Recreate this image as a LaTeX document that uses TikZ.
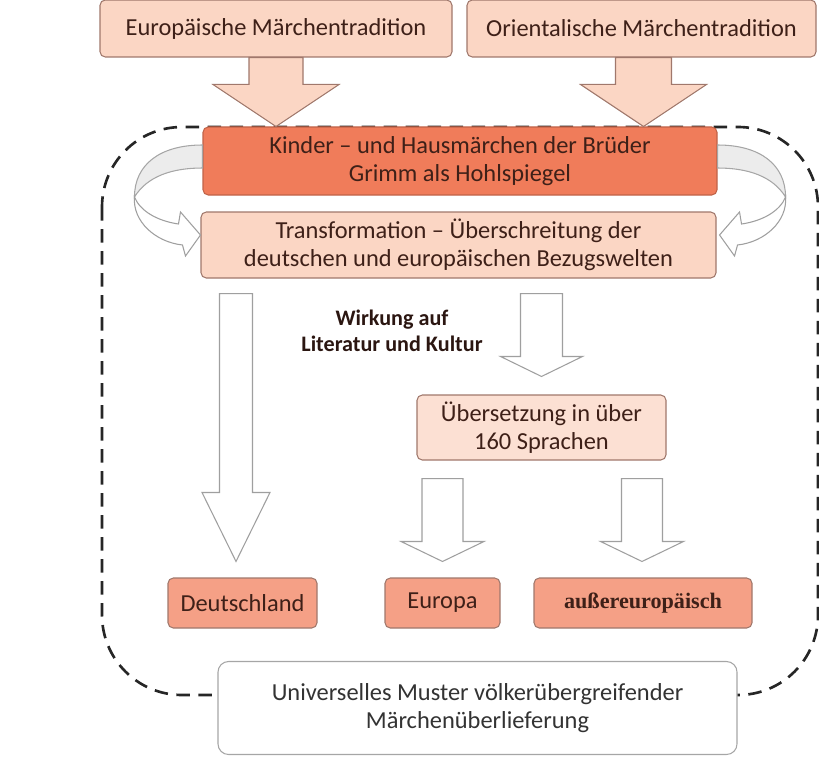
\documentclass[tikz,border=0pt]{standalone}
\usepackage{fontspec}
\setmainfont{Carlito}
\newfontfamily\oldserif{Liberation Serif}
\usetikzlibrary{calc}

\definecolor{peach}{RGB}{251,214,196}
\definecolor{coral}{RGB}{240,124,90}
\definecolor{salmon}{RGB}{245,160,134}
\definecolor{edge}{RGB}{160,120,108}
\definecolor{ink}{RGB}{62,32,24}

% fat block arrow: top point, tip point, half shaft, half head, head length
\newcommand{\fatdown}[6][]{%
  \draw[#1] let \p1=#2, \p2=#3 in
    (\x2-#4,\y1) -- (\x2+#4,\y1) -- (\x2+#4,\y2+#6) -- (\x2+#5,\y2+#6)
    -- (\x2,\y2) -- (\x2-#5,\y2+#6) -- (\x2-#4,\y2+#6) -- cycle;}

\begin{document}
\begin{tikzpicture}[line width=0.6pt,
  box/.style={draw=edge,rounded corners=3pt,align=center,inner sep=0pt,text=ink,font=\fontsize{13.9}{16}\selectfont},
  peachbox/.style={box,fill=peach},
  redbox/.style={box,fill=coral,draw=coral!80!black},
  landbox/.style={box,fill=salmon,minimum height=1cm},
  toparr/.style={fill=peach,draw=edge},
  whitearr/.style={fill=white,draw=gray!75},
  frame/.style={dashed,line width=1.5pt,dash pattern=on 0.27cm off 0.17cm,rounded corners=1.6cm,black!85},
  band/.style={fill=gray!15,draw=gray!70},
  curl/.pic={
    \draw[band] (0,0.32) .. controls (-0.86,0.32) and (-1.36,-0.08) .. (-1.36,-0.72)
      .. controls (-1.1,-0.3) and (-0.6,-0.14) .. (0,-0.14) -- cycle;
    \draw[whitearr] (-1.36,-0.72) .. controls (-1.4,-1.2) and (-0.95,-1.62) .. (-0.4,-1.68)
      -- (-0.34,-1.9) -- (-0.04,-1.48) -- (-0.44,-1.02) -- (-0.48,-1.26)
      .. controls (-0.9,-1.2) and (-1.25,-1.0) .. (-1.36,-0.72) -- cycle;}]
\useasboundingbox (0,0) rectangle (16.38,-15.16);

\draw[frame] (2.04,-2.54) rectangle (16.36,-13.9);

\node[peachbox,minimum width=7.04cm,minimum height=1.14cm] (eu) at (5.52,-0.57) {Europäische Märchentradition};
\node[peachbox,minimum width=6.98cm,minimum height=1.14cm] (or) at (12.83,-0.57) {Orientalische Märchentradition};
\node[redbox,minimum width=10.28cm,minimum height=1.36cm] (kinder) at (9.2,-3.22) {Kinder -- und Hausmärchen der Brüder\\Grimm als Hohlspiegel};
\node[peachbox,minimum width=10.3cm,minimum height=1.32cm] (trans) at (9.17,-4.9) {Transformation -- Überschreitung der\\deutschen und europäischen Bezugswelten};
\node[font=\fontsize{12.6}{14.5}\selectfont\bfseries,text=ink!70!black,align=center] (wirk) at (7.84,-6.62) {Wirkung auf\\Literatur und Kultur};
\node[peachbox,fill=peach!75,minimum width=4.98cm,minimum height=1.3cm] (ueb) at (10.83,-8.55) {Übersetzung in über\\160 Sprachen};
\node[landbox,minimum width=2.98cm] (deu) at (4.85,-12.06) {Deutschland};
\node[landbox,minimum width=2.3cm] (europa) at (8.85,-12.06) {Europa};
\node[landbox,minimum width=4.36cm,font=\oldserif\bfseries\fontsize{12.6}{15}\selectfont] (aus) at (12.86,-12.06) {außereuropäisch};
\node[box,fill=white,draw=gray!70,text=black!80,rounded corners=6pt,minimum width=10.38cm,minimum height=1.86cm] (univ) at (9.55,-14.16) {Universelles Muster völkerübergreifender\\Märchenüberlieferung};

\fatdown[toparr]{(eu.south)}{(eu.south |- kinder.north)}{0.54cm}{1.26cm}{0.84cm}
\fatdown[toparr]{(or.south)}{(12.87,0 |- kinder.north)}{0.56cm}{1.26cm}{0.84cm}
\pic at (kinder.west) {curl};
\pic[xscale=-1] at (kinder.east) {curl};
\fatdown[whitearr]{($(trans.south)+(0,-0.3)$)}{($(deu.north)+(-0.13,0.32)$)}{0.33cm}{0.68cm}{1.38cm}
\fatdown[whitearr]{($(trans.south)+(0,-0.3)$)}{($(ueb.north)+(0,0.36)$)}{0.42cm}{0.82cm}{0.4cm}
\fatdown[whitearr]{($(ueb.south)+(0,-0.36)$)}{($(europa.north)+(0,0.32)$)}{0.41cm}{0.83cm}{0.4cm}
\fatdown[whitearr]{($(ueb.south)+(0,-0.36)$)}{($(aus.north)+(-0.02,0.32)$)}{0.41cm}{0.83cm}{0.4cm}
\end{tikzpicture}
\end{document}
